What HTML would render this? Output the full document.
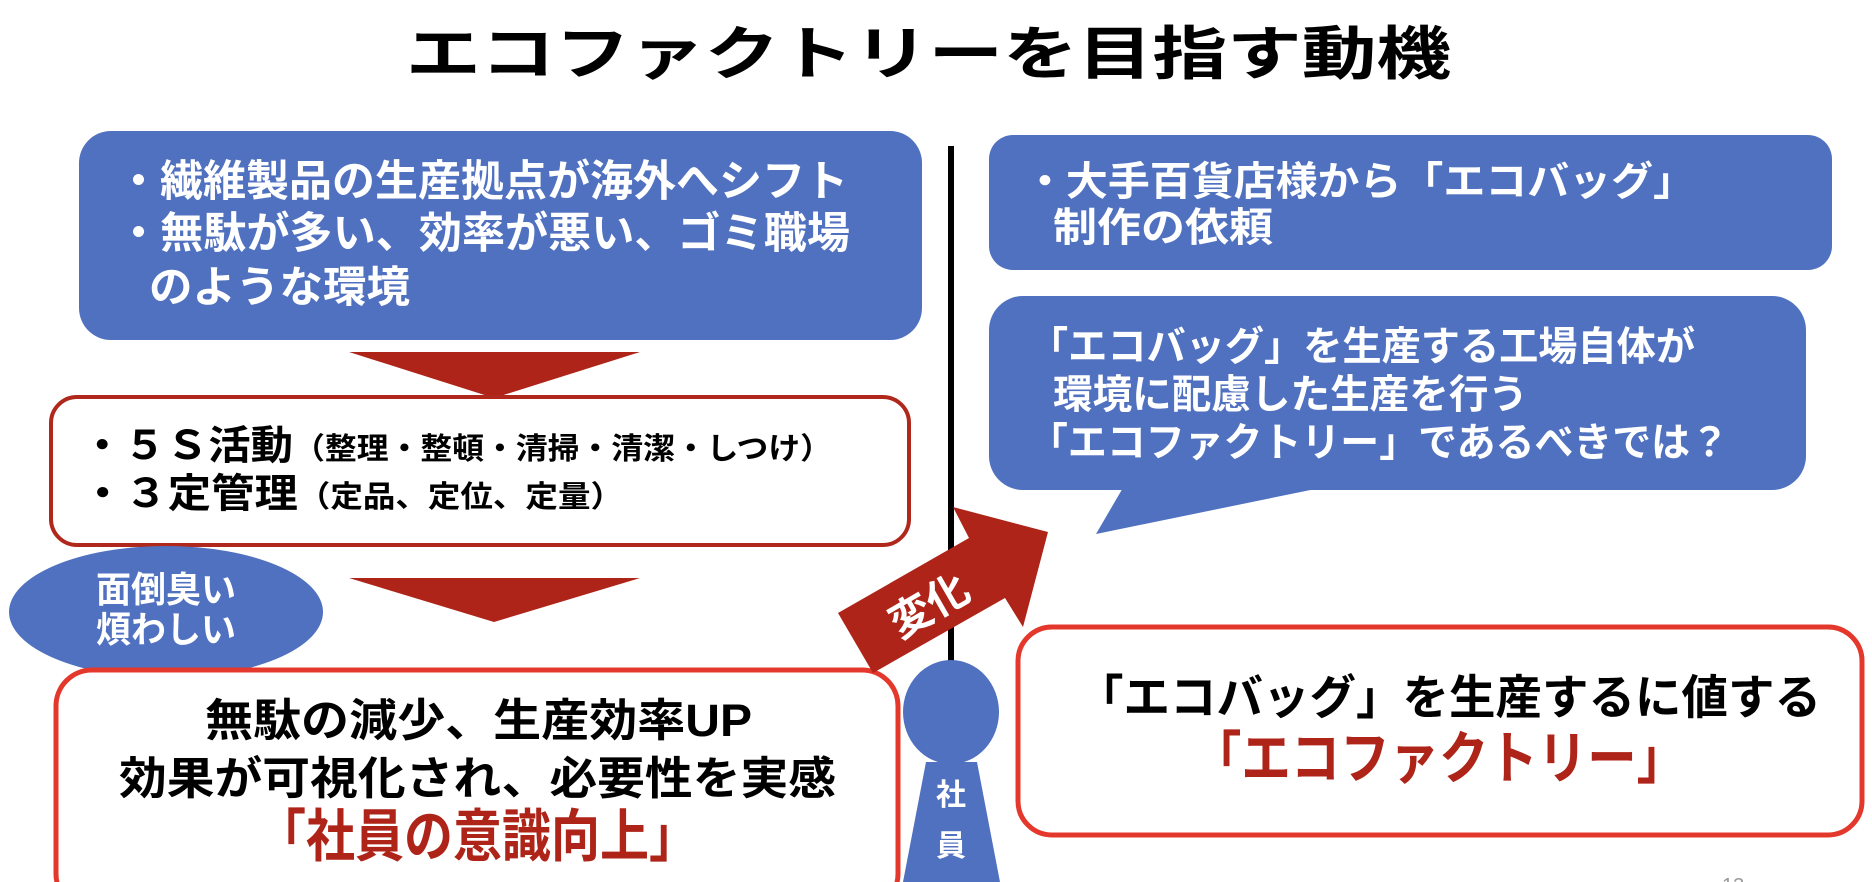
<!DOCTYPE html>
<html><head><meta charset="utf-8"><style>
html,body{margin:0;padding:0;background:#fff;}
svg{display:block;}
text{font-family:"Liberation Sans","Noto Sans CJK JP",sans-serif;font-weight:bold;}
</style></head><body>
<svg width="1872" height="882" viewBox="0 0 1872 882" xmlns="http://www.w3.org/2000/svg">
<!-- title -->
<text x="406" y="74" font-size="58" fill="#000" textLength="1045" lengthAdjust="spacingAndGlyphs">エコファクトリーを目指す動機</text>

<!-- top-left blue box -->
<rect x="79" y="131" width="843" height="209" rx="32" fill="#5071c0"/>
<text x="117" y="196" font-size="43" fill="#fff" textLength="731" lengthAdjust="spacingAndGlyphs">・繊維製品の生産拠点が海外へシフト</text>
<text x="117" y="248" font-size="43" fill="#fff" textLength="733" lengthAdjust="spacingAndGlyphs">・無駄が多い、効率が悪い、ゴミ職場</text>
<text x="149" y="302" font-size="43" fill="#fff" textLength="261" lengthAdjust="spacingAndGlyphs">のような環境</text>

<polygon points="349,352 640,352 494,398" fill="#ae2418"/>

<!-- box 2 -->
<rect x="51" y="397" width="858" height="148" rx="26" fill="#fff" stroke="#b0271c" stroke-width="4"/>
<text x="81" y="459" font-size="40" fill="#000" textLength="751" lengthAdjust="spacingAndGlyphs">・５Ｓ活動<tspan font-size="30">（整理・整頓・清掃・清潔・しつけ）</tspan></text>
<text x="81" y="507" font-size="40" fill="#000" textLength="542" lengthAdjust="spacingAndGlyphs">・３定管理<tspan font-size="30">（定品、定位、定量）</tspan></text>

<!-- ellipse -->
<ellipse cx="166" cy="612" rx="157" ry="66" fill="#5071c0"/>
<text x="96" y="602" font-size="36" fill="#fff" textLength="140" lengthAdjust="spacingAndGlyphs">面倒臭い</text>
<text x="96" y="642" font-size="36" fill="#fff" textLength="140" lengthAdjust="spacingAndGlyphs">煩わしい</text>

<polygon points="349,578 640,578 494,622" fill="#ae2418"/>

<!-- box 3 -->
<rect x="56" y="670" width="842" height="240" rx="36" fill="#fff" stroke="#e3382b" stroke-width="5"/>
<text x="205" y="736" font-size="45" fill="#000" textLength="547" lengthAdjust="spacingAndGlyphs">無駄の減少、生産効率UP</text>
<text x="119" y="794" font-size="45" fill="#000" textLength="717" lengthAdjust="spacingAndGlyphs">効果が可視化され、必要性を実感</text>
<text x="257" y="856" font-size="57" fill="#ae2418" textLength="441" lengthAdjust="spacingAndGlyphs">「社員の意識向上」</text>

<!-- vertical line -->
<rect x="948" y="146" width="6" height="526" fill="#000"/>

<!-- arrow -->
<polygon points="838,613 969,538 953,507 1048,532 1023,627 1005,598 873,673" fill="#ae2418"/>
<text x="930" y="620" font-size="42" fill="#fff" text-anchor="middle" transform="rotate(-30 930 607)">変化</text>

<!-- person -->
<ellipse cx="951" cy="712" rx="48" ry="52" fill="#5071c0"/>
<polygon points="926,762 977,762 1000,882 903,882" fill="#5071c0"/>
<text x="951" y="805" font-size="30" fill="#fff" text-anchor="middle">社</text>
<text x="951" y="856" font-size="30" fill="#fff" text-anchor="middle">員</text>

<!-- right top blue box -->
<rect x="989" y="135" width="843" height="135" rx="24" fill="#5071c0"/>
<text x="1024" y="195" font-size="40" fill="#fff" textLength="671" lengthAdjust="spacingAndGlyphs">・大手百貨店様から「エコバッグ」</text>
<text x="1053" y="241" font-size="40" fill="#fff" textLength="220" lengthAdjust="spacingAndGlyphs">制作の依頼</text>

<!-- speech bubble -->
<rect x="989" y="296" width="817" height="194" rx="34" fill="#5071c0"/>
<polygon points="1124,486 1096,534 1330,486" fill="#5071c0"/>
<text x="1029" y="360" font-size="40" fill="#fff" textLength="666" lengthAdjust="spacingAndGlyphs">「エコバッグ」を生産する工場自体が</text>
<text x="1053" y="408" font-size="40" fill="#fff" textLength="475" lengthAdjust="spacingAndGlyphs">環境に配慮した生産を行う</text>
<text x="1029" y="456" font-size="40" fill="#fff" textLength="700" lengthAdjust="spacingAndGlyphs">「エコファクトリー」であるべきでは？</text>

<!-- right red box -->
<rect x="1018" y="627" width="844" height="208" rx="34" fill="#fff" stroke="#e3382b" stroke-width="5"/>
<text x="1077" y="714" font-size="47" fill="#000" textLength="744" lengthAdjust="spacingAndGlyphs">「エコバッグ」を生産するに値する</text>
<text x="1192" y="778" font-size="57" fill="#ae2418" textLength="494" lengthAdjust="spacingAndGlyphs">「エコファクトリー」</text>

<text x="1722" y="892" font-size="20" fill="#999" font-weight="normal" style="font-weight:normal">13</text>
</svg>
</body></html>
